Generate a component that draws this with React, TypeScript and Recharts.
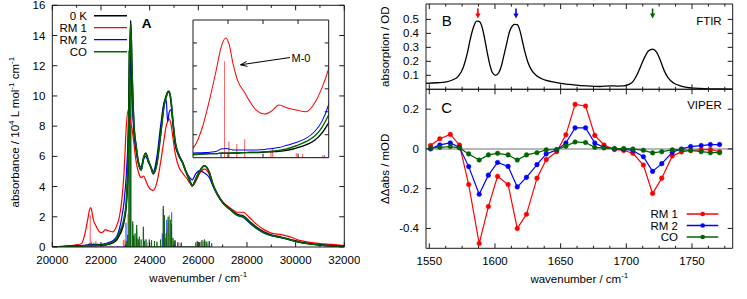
import React from 'react';
import { ComposedChart, Line, Scatter, XAxis, YAxis, ReferenceLine, Legend } from 'recharts';

const FONT = '"Liberation Sans", Arial, Helvetica, sans-serif';
const FRAME = '#1a1a1a';
const FS = 11.5;

// ---- panel A: calculated absorption spectra ----
const wnA = [20000, 20500, 21000, 21200, 21300, 21400, 21470, 21520, 21575, 21610, 21660, 21710, 21790, 21850, 21920, 22020, 22100, 22180, 22270, 22380, 22490, 22590, 22670, 22750, 22850, 22950, 23050, 23120, 23170, 23222, 23270, 23350, 23450, 23550, 23650, 23750, 23840, 23950, 24050, 24150, 24300, 24450, 24600, 24680, 24740, 24800, 24880, 24960, 25050, 25200, 25350, 25500, 25650, 25750, 25900, 26050, 26250, 26450, 26600, 26800, 27000, 27300, 27600, 27850, 28100, 28400, 28700, 29000, 29400, 29800, 30200, 30600, 31000, 31500, 32000];
const abs0K = [0.00, 0.03, 0.06, 0.07, 0.08, 0.09, 0.09, 0.10, 0.10, 0.10, 0.10, 0.10, 0.11, 0.11, 0.11, 0.12, 0.13, 0.14, 0.16, 0.21, 0.28, 0.38, 0.53, 0.76, 1.1, 1.7, 3.0, 6.0, 11.5, 15.0, 12.0, 8.2, 6.6, 5.5, 5.1, 5.9, 6.2, 5.7, 5.3, 4.85, 5.6, 7.5, 9.5, 10.0, 10.25, 10.3, 9.6, 8.2, 6.9, 6.1, 5.6, 4.95, 4.4, 4.05, 4.5, 5.0, 5.38, 4.95, 4.15, 3.45, 2.95, 2.5, 2.15, 2.05, 1.7, 1.3, 1.0, 0.8, 0.65, 0.48, 0.32, 0.21, 0.14, 0.08, 0.04];
const absRM1 = [0.00, 0.05, 0.15, 0.22, 0.62, 1.35, 1.95, 2.40, 2.61, 2.49, 2.02, 1.68, 1.42, 1.22, 1.04, 0.95, 1.02, 1.15, 1.09, 1.04, 1.00, 1.19, 1.51, 1.95, 3.0, 5.0, 8.2, 9.1, 8.7, 8.2, 7.9, 6.9, 5.6, 4.9, 4.6, 4.7, 4.4, 4.0, 3.8, 3.75, 4.3, 5.6, 7.2, 8.0, 8.3, 8.5, 8.1, 7.2, 6.2, 5.3, 4.9, 4.6, 4.25, 4.05, 4.35, 4.85, 5.15, 4.8, 4.1, 3.45, 3.0, 2.6, 2.3, 2.3, 1.95, 1.5, 1.15, 0.92, 0.82, 0.65, 0.42, 0.3, 0.23, 0.17, 0.1];
const absRM2 = [0.00, 0.03, 0.08, 0.10, 0.11, 0.12, 0.14, 0.19, 0.20, 0.19, 0.17, 0.17, 0.17, 0.17, 0.17, 0.18, 0.20, 0.22, 0.27, 0.33, 0.42, 0.57, 0.78, 1.16, 1.9, 3.0, 5.0, 7.5, 11.0, 12.5, 10.0, 7.6, 6.3, 5.5, 5.3, 5.8, 6.0, 5.6, 5.3, 5.0, 6.0, 8.0, 9.6, 9.75, 8.3, 8.9, 9.1, 8.2, 6.8, 6.0, 5.6, 5.0, 4.6, 4.45, 4.85, 5.05, 4.9, 4.6, 4.05, 3.4, 2.95, 2.5, 2.1, 1.95, 1.6, 1.2, 0.92, 0.75, 0.62, 0.45, 0.3, 0.2, 0.13, 0.08, 0.03];
const absCO = [0.00, 0.03, 0.06, 0.07, 0.08, 0.09, 0.09, 0.10, 0.10, 0.10, 0.11, 0.11, 0.11, 0.12, 0.12, 0.13, 0.14, 0.16, 0.19, 0.26, 0.35, 0.47, 0.65, 0.93, 1.3, 1.9, 3.2, 6.0, 11.3, 14.8, 12.0, 8.2, 6.6, 5.5, 5.1, 5.9, 6.2, 5.7, 5.3, 4.85, 5.5, 7.4, 9.4, 9.9, 10.2, 10.3, 9.7, 8.3, 7.0, 6.1, 5.6, 4.95, 4.4, 4.05, 4.5, 5.0, 5.38, 4.95, 4.15, 3.45, 2.95, 2.5, 2.1, 2.0, 1.65, 1.25, 0.95, 0.76, 0.63, 0.46, 0.3, 0.2, 0.13, 0.07, 0.03];

// stick spectra (transition positions / strengths)
const stickWnRM1 = [21560, 21610, 21700, 21790, 22090, 22110, 22380, 22450, 22680, 22920, 22950, 23110, 23350, 23560, 23900, 24530, 24700, 24760, 24830, 25000, 25200, 26000, 26200, 26350];
const stickHRM1 = [2.1, 0.35, 0.3, 0.4, 0.15, 0.2, 0.1, 0.08, 0.05, 0.45, 0.5, 2.2, 0.6, 0.3, 0.3, 0.8, 1.2, 1.6, 0.9, 0.4, 0.3, 0.3, 0.35, 0.2];
const stickWnRM2 = [21520, 22700, 23030, 23200, 23330, 23480, 23760, 24000, 24520, 24640, 24700, 24904, 25050, 25300, 26050, 26250, 26450];
const stickHRM2 = [0.1, 0.05, 1.6, 9, 0.8, 0.6, 0.5, 0.3, 0.9, 0.6, 1.8, 2.3, 0.4, 0.3, 0.3, 0.45, 0.3];
const stickWn0K = [23160, 23230, 23310, 23470, 23750, 24560, 24809, 25000, 26100, 26300];
const stickH0K = [10, 13, 1.5, 1.2, 1.2, 2.5, 2.1, 0.4, 0.35, 0.4];
const stickWnCO = [23040, 23100, 23152, 23222, 23304, 23350, 23400, 23468, 23530, 23575, 23650, 23740, 23780, 23850, 23987, 24080, 24200, 24300, 24450, 24563, 24610, 24680, 24760, 24850, 24900, 24960, 25043, 25150, 25300, 25900, 25960, 26050, 26150, 26250, 26350, 26450, 26550];
const stickHCO = [0.4, 0.8, 13, 14.5, 1.7, 0.7, 0.9, 1.46, 0.5, 0.68, 0.5, 1.34, 0.4, 0.5, 0.5, 0.45, 0.4, 0.35, 0.5, 2.72, 2.1, 0.9, 2.0, 1.8, 1.5, 0.6, 0.45, 0.3, 0.25, 0.3, 0.4, 0.3, 0.45, 0.5, 0.35, 0.4, 0.25];

const namesA = ['0 K', 'RM 1', 'RM 2', 'CO'];
const colorsA = ['#000000', '#ff0000', '#0000ff', '#006400'];

// ---- panel B: FTIR ----
const ftirWn = [1547.5, 1556, 1563, 1568, 1572, 1576, 1579, 1581, 1583.5, 1586, 1588, 1590, 1592, 1594, 1596, 1598, 1600.5, 1603, 1605, 1607, 1609, 1611, 1613, 1615, 1617, 1619, 1621, 1623, 1625, 1628, 1632, 1637, 1643, 1650, 1660, 1670, 1680, 1688, 1693, 1698, 1702, 1705, 1708, 1711, 1714, 1717, 1720, 1723, 1726, 1729, 1732, 1736, 1741, 1746, 1752, 1760, 1770, 1781];
const ftirAbs = [0.043, 0.047, 0.053, 0.068, 0.092, 0.16, 0.26, 0.35, 0.44, 0.488, 0.485, 0.45, 0.37, 0.27, 0.18, 0.12, 0.10, 0.12, 0.17, 0.25, 0.33, 0.41, 0.45, 0.465, 0.462, 0.42, 0.34, 0.26, 0.195, 0.135, 0.095, 0.07, 0.055, 0.043, 0.032, 0.024, 0.02, 0.025, 0.023, 0.024, 0.035, 0.055, 0.10, 0.165, 0.23, 0.275, 0.287, 0.265, 0.205, 0.13, 0.08, 0.045, 0.025, 0.014, 0.008, 0.004, 0.002, 0.001];
const pumpWn = [1587, 1616, 1720];
const pumpLevel = [0.507, 0.507, 0.507];
const pumpColors = ['#ff0000', '#0000ff', '#006400'];

// ---- panel C: VIPER ----
const viperWn = [1551, 1558, 1566, 1573, 1580, 1588, 1595, 1602, 1610, 1617, 1624, 1632, 1639, 1647, 1654, 1661, 1669, 1676, 1683, 1691, 1698, 1705, 1713, 1720, 1727, 1735, 1742, 1749, 1757, 1764, 1771];
const viperRM1 = [0.017, 0.051, 0.073, 0.020, -0.179, -0.476, -0.290, -0.138, -0.179, -0.400, -0.329, -0.147, -0.054, -0.014, 0.071, 0.224, 0.216, 0.068, 0.020, -0.003, -0.008, -0.022, -0.081, -0.224, -0.147, -0.035, -0.015, -0.008, -0.005, -0.003, -0.014];
const viperRM2 = [0.000, 0.020, 0.030, 0.008, -0.089, -0.228, -0.132, -0.068, -0.088, -0.191, -0.143, -0.079, -0.025, -0.005, 0.030, 0.106, 0.106, 0.030, 0.008, 0.000, -0.002, -0.008, -0.039, -0.113, -0.074, -0.017, 0.000, 0.012, 0.017, 0.022, 0.022];
const viperCO = [0.005, 0.008, 0.012, 0.005, -0.025, -0.056, -0.030, -0.022, -0.030, -0.056, -0.030, -0.019, -0.005, -0.003, 0.014, 0.035, 0.032, 0.008, 0.005, 0.002, 0.002, 0.000, -0.007, -0.020, -0.014, -0.005, -0.005, -0.008, -0.014, -0.019, -0.019];
const namesC = ['RM 1', 'RM 2', 'CO'];
const colorsC = ['#ff0000', '#0000ff', '#006400'];

// ticks
const ticksA = [20000, 21000, 22000, 23000, 24000, 25000, 26000, 27000, 28000, 29000, 30000, 31000, 32000];
const majorsA = [20000, 22000, 24000, 26000, 28000, 30000, 32000];
const yTicksA = [0, 2, 4, 6, 8, 10, 12, 14, 16];
const ticksInsetX = [21600, 22000, 22400];
const ticksInsetY = [0.5, 1, 1.5, 2, 2.5];
const ticksWn = [1550, 1562.5, 1575, 1587.5, 1600, 1612.5, 1625, 1637.5, 1650, 1662.5, 1675, 1687.5, 1700, 1712.5, 1725, 1737.5, 1750, 1762.5, 1775];
const majorsWn = [1550, 1600, 1650, 1700, 1750];
const yTicksB = [0.1, 0.2, 0.3, 0.4, 0.5];
const yTicksC = [-0.4, -0.2, 0, 0.2];

const rowsA = wnA.map((x, i) => ({ x, k0: abs0K[i], rm1: absRM1[i], rm2: absRM2[i], co: absCO[i] }));
const stickRows = (wn: number[], h: number[]) => wn.flatMap((x, i) => [{ x, y: 0 }, { x, y: h[i] }, { x, y: 0 }]);
const sticks = [
  { key: 's0', data: stickRows(stickWn0K, stickH0K), color: '#707070', op: 0.6 },
  { key: 's1', data: stickRows(stickWnRM1, stickHRM1), color: '#ff4040', op: 0.55 },
  { key: 's2', data: stickRows(stickWnRM2, stickHRM2), color: '#2040ff', op: 0.65 },
  { key: 's3', data: stickRows(stickWnCO, stickHCO), color: '#006400', op: 0.8 },
];
const curvesA = [
  { key: 'rm1', color: colorsA[1], w: 1.2 },
  { key: 'rm2', color: colorsA[2], w: 1.2 },
  { key: 'k0', color: colorsA[0], w: 1.6 },
  { key: 'co', color: colorsA[3], w: 1.6 },
];
const rowsB = ftirWn.map((x, i) => ({ x, y: ftirAbs[i] }));
const rowsPump = pumpWn.map((x, i) => ({ x, y: pumpLevel[i], color: pumpColors[i] }));
const rowsC = viperWn.map((x, i) => ({ x, rm1: viperRM1[i], rm2: viperRM2[i], co: viperCO[i] }));

type Side = 'bottom' | 'top' | 'left' | 'right';
const near = (a: number, b: number) => Math.abs(a - b) < 1e-6;

// gnuplot style ticks: inward, minor ticks half length, labels only on majors
const makeTick = (side: Side, majors: number[], len: number, fmt?: (v: number) => string) => (props: any) => {
  const { x, y, payload } = props;
  const v = payload.value as number;
  const major = majors.some((m) => near(m, v));
  const l = major ? len : len / 2;
  const d = side === 'bottom' ? [0, -l] : side === 'top' ? [0, l] : side === 'left' ? [l, 0] : [-l, 0];
  return (
    <g>
      <line x1={x} y1={y} x2={x + d[0]} y2={y + d[1]} stroke={FRAME} strokeWidth={1} />
      {fmt && major && side === 'bottom' && (
        <text x={x} y={y + 17} textAnchor="middle" fontSize={FS} fontFamily={FONT} fill="#000">{fmt(v)}</text>
      )}
      {fmt && major && side === 'left' && (
        <text x={x - 7} y={y + 4} textAnchor="end" fontSize={FS} fontFamily={FONT} fill="#000">{fmt(v)}</text>
      )}
    </g>
  );
};

interface AxesOpts {
  xDomain: [number, number];
  yDomain: [number, number];
  xTicks: number[];
  xMajors: number[];
  yTicks: number[];
  yMajors: number[];
  len: number;
  xFmt?: (v: number) => string;
  yFmt?: (v: number) => string;
  xTitle?: any;
  yTitle?: any;
}

// axes are 1px thick (a zero-size axis is not drawn), margins account for that
const frameAxes = (o: AxesOpts) => [
  <XAxis key="xb" type="number" dataKey="x" domain={o.xDomain} ticks={o.xTicks} interval={0} height={1} tickSize={0} tickMargin={0}
    tickLine={false} axisLine={{ stroke: FRAME }} tick={makeTick('bottom', o.xMajors, o.len, o.xFmt)} allowDataOverflow label={o.xTitle} />,
  <XAxis key="xt" xAxisId="top" orientation="top" type="number" dataKey="x" domain={o.xDomain} ticks={o.xTicks} interval={0} height={1}
    tickSize={0} tickMargin={0} tickLine={false} axisLine={{ stroke: FRAME }} tick={makeTick('top', o.xMajors, o.len)} allowDataOverflow />,
  <YAxis key="yl" type="number" domain={o.yDomain} ticks={o.yTicks} interval={0} width={1} tickSize={0} tickMargin={0}
    tickLine={false} axisLine={{ stroke: FRAME }} tick={makeTick('left', o.yMajors, o.len, o.yFmt)} allowDataOverflow label={o.yTitle} />,
  <YAxis key="yr" yAxisId="right" orientation="right" type="number" domain={o.yDomain} ticks={o.yTicks} interval={0} width={1}
    tickSize={0} tickMargin={0} tickLine={false} axisLine={{ stroke: FRAME }} tick={makeTick('right', o.yMajors, o.len)} allowDataOverflow />,
];

const wavenumberTitle = (p: any) => {
  const vb = p.viewBox || { x: 0, y: 0, width: 0, height: 0 };
  return (
    <text x={vb.x + vb.width / 2} y={vb.y + 35} textAnchor="middle" fontSize={FS} fontFamily={FONT} fill="#000">
      wavenumber / cm<tspan dy={-5} fontSize={8}>-1</tspan>
    </text>
  );
};

const yTitle = (content: React.ReactNode, dx: number, dyCenter = 0) => (p: any) => {
  const vb = p.viewBox || { x: 0, y: 0, width: 0, height: 0 };
  const cx = vb.x + vb.width + dx;
  const cy = vb.y + vb.height / 2 + dyCenter;
  return (
    <text transform={`translate(${cx},${cy}) rotate(-90)`} textAnchor="middle" fontSize={FS} fontFamily={FONT} fill="#000">
      {content}
    </text>
  );
};

const absTitle = (
  <>
    absorbance / 10<tspan dy={-5} fontSize={8}>4</tspan>
    <tspan dy={5}> L mol</tspan>
    <tspan dy={-5} fontSize={8}>-1</tspan>
    <tspan dy={5}> cm</tspan>
    <tspan dy={-5} fontSize={8}>-1</tspan>
  </>
);

const LegendA = () => (
  <svg width={140} height={60} style={{ overflow: 'visible' }}>
    {namesA.map((n, i) => (
      <g key={n}>
        <text x={87} y={19.8 + i * 12} textAnchor="end" fontSize={FS} fontFamily={FONT} fill="#000">{n}</text>
        <line x1={94} x2={127} y1={15.7 + i * 12} y2={15.7 + i * 12} stroke={colorsA[i]} strokeWidth={i === 0 || i === 3 ? 1.6 : 1.3} />
      </g>
    ))}
  </svg>
);

const LegendC = () => (
  <svg width={100} height={45} style={{ overflow: 'visible' }}>
    {namesC.map((n, i) => (
      <g key={n}>
        <text x={38} y={10 + i * 11.5} textAnchor="end" fontSize={FS} fontFamily={FONT} fill="#000">{n}</text>
        <line x1={46.7} x2={78.3} y1={6 + i * 11.5} y2={6 + i * 11.5} stroke={colorsC[i]} strokeWidth={1.3} />
        <circle cx={62.7} cy={6 + i * 11.5} r={2.3} fill={colorsC[i]} />
      </g>
    ))}
  </svg>
);

const PumpArrow = (props: any) => {
  const { cx, cy, payload } = props;
  const c = payload.color;
  return (
    <g>
      <line x1={cx} y1={cy - 10} x2={cx} y2={cy - 4} stroke={c} strokeWidth={1.6} />
      <polygon points={`${cx - 2.6},${cy - 5} ${cx + 2.6},${cy - 5} ${cx},${cy}`} fill={c} />
    </g>
  );
};

const spectraLines = (w: number) => [
  ...sticks.map((s) => (
    <Line key={s.key} data={s.data} dataKey="y" type="linear" stroke={s.color} strokeOpacity={s.op} strokeWidth={1}
      dot={false} activeDot={false} legendType="none" isAnimationActive={false} />
  )),
  ...curvesA.map((c) => (
    <Line key={c.key} dataKey={c.key} type="monotone" stroke={c.color} strokeWidth={c.w * w}
      dot={false} activeDot={false} legendType="none" isAnimationActive={false} />
  )),
];

export default function App() {
  return (
    <div style={{ position: 'absolute', left: 0, top: 0, width: 747, height: 299, background: '#fff', fontFamily: FONT }}>
      {/* A */}
      <div style={{ position: 'absolute', left: 0, top: 0 }}>
        <ComposedChart width={360} height={299} data={rowsA} margin={{ top: 4.3, right: 14.7, bottom: 51, left: 51.3 }}>
          {frameAxes({
            xDomain: [20000, 32000], yDomain: [0, 16], xTicks: ticksA, xMajors: majorsA, yTicks: yTicksA, yMajors: yTicksA, len: 5,
            xFmt: (v) => String(v), yFmt: (v) => String(v), xTitle: wavenumberTitle, yTitle: yTitle(absTitle, -33, 6),
          })}
          {spectraLines(1)}
          <Legend layout="vertical" align="center" verticalAlign="middle" wrapperStyle={{ left: 0, top: 0, width: 140, height: 60 }} content={() => <LegendA />} />
        </ComposedChart>
      </div>

      {/* inset */}
      <div style={{ position: 'absolute', left: 192.3, top: 19, background: '#fff' }}>
        <ComposedChart width={137.7} height={139.7} data={rowsA} margin={{ top: 0, right: 0, bottom: 0, left: 0 }}>
          {frameAxes({
            xDomain: [21200, 22750], yDomain: [0, 3], xTicks: ticksInsetX, xMajors: ticksInsetX, yTicks: ticksInsetY, yMajors: ticksInsetY, len: 4,
          })}
          {spectraLines(0.85)}
        </ComposedChart>
      </div>

      {/* B */}
      <div style={{ position: 'absolute', left: 380, top: 0 }}>
        <ComposedChart width={367} height={95} data={rowsB} margin={{ top: 3, right: 13.3, bottom: 4.7, left: 45 }}>
          {frameAxes({
            xDomain: [1547.5, 1781], yDomain: [0, 0.61], xTicks: ticksWn, xMajors: majorsWn, yTicks: yTicksB, yMajors: yTicksB, len: 5,
            yFmt: (v) => v.toFixed(1), yTitle: yTitle('absorption / OD', -37),
          })}
          <Line dataKey="y" type="monotone" stroke="#000" strokeWidth={1.3} dot={false} activeDot={false} isAnimationActive={false} />
          <Scatter data={rowsPump} dataKey="y" shape={<PumpArrow />} isAnimationActive={false} />
        </ComposedChart>
      </div>

      {/* C */}
      <div style={{ position: 'absolute', left: 380, top: 88 }}>
        <ComposedChart width={367} height={211} data={rowsC} margin={{ top: 0.3, right: 13.3, bottom: 49.7, left: 45 }}>
          {frameAxes({
            xDomain: [1547.5, 1781], yDomain: [-0.5, 0.3], xTicks: ticksWn, xMajors: majorsWn, yTicks: yTicksC, yMajors: yTicksC, len: 5,
            xFmt: (v) => String(v), yFmt: (v) => (v === 0 ? '0' : v.toFixed(1)),
            xTitle: wavenumberTitle, yTitle: yTitle('\u0394\u0394abs / mOD', -37),
          })}
          <ReferenceLine y={0} stroke="#a0a0a0" strokeWidth={1.5} />
          {(['rm1', 'rm2', 'co'] as const).map((k, i) => (
            <Line key={k} dataKey={k} type="linear" stroke={colorsC[i]} strokeWidth={1.2}
              dot={{ r: 2.3, fill: colorsC[i], stroke: colorsC[i], strokeWidth: 0.5 }} activeDot={false} isAnimationActive={false} />
          ))}
          <Legend layout="vertical" align="center" verticalAlign="middle" wrapperStyle={{ left: 260, top: 120, width: 100, height: 45 }} content={() => <LegendC />} />
        </ComposedChart>
      </div>

      {/* panel annotations */}
      <svg width={747} height={299} style={{ position: 'absolute', left: 0, top: 0, pointerEvents: 'none' }} fontFamily={FONT}>
        <text x={146.7} y={27.7} textAnchor="middle" fontSize={13.5} fontWeight="bold">A</text>
        <text x={446.7} y={26} textAnchor="middle" fontSize={15}>B</text>
        <text x={721.7} y={24.5} textAnchor="end" fontSize={FS}>FTIR</text>
        <text x={446.7} y={112.6} textAnchor="middle" fontSize={15}>C</text>
        <text x={721.7} y={109.2} textAnchor="end" fontSize={FS}>VIPER</text>
        <text x={301} y={62} textAnchor="middle" fontSize={11}>M-0</text>
        <line x1={290} y1={57.5} x2={240.5} y2={64.8} stroke="#000" strokeWidth={1} />
        <polyline points="247.4,66.4 240.5,64.8 246.5,61.5" fill="none" stroke="#000" strokeWidth={1} />
      </svg>
    </div>
  );
}
